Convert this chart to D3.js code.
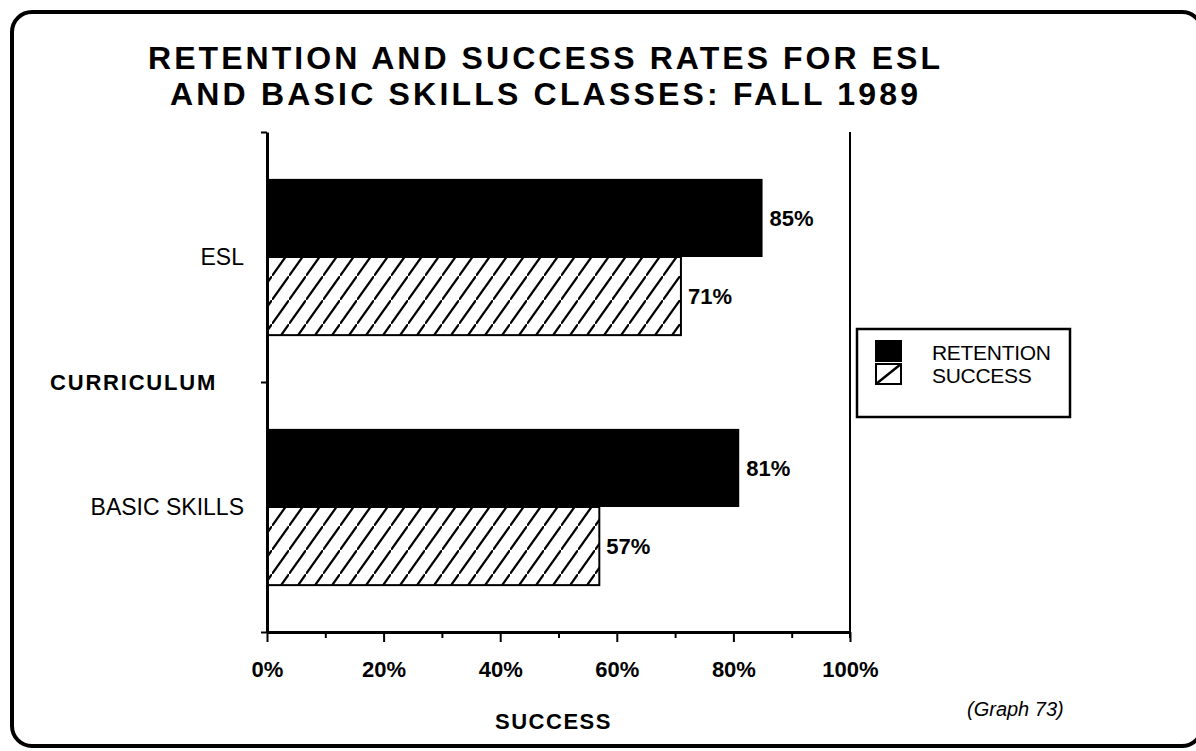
<!DOCTYPE html>
<html>
<head>
<meta charset="utf-8">
<script src="https://cdn.jsdelivr.net/npm/d3@7"></script>
<style>
  body { margin: 0; background: #fff; }
  svg { display: block; font-family: "Liberation Sans", Arial, sans-serif; }
</style>
</head>
<body>
<div id="container"></div>
<script>
// chart data
var categories = ["ESL", "BASIC SKILLS"];
var series = ["RETENTION", "SUCCESS"];
var retention = [85, 81];
var success = [71, 57];
var xTicks = [0, 20, 40, 60, 80, 100];
var xMinor = [10, 30, 50, 70, 90];

var w = 1196, h = 751;
var margin = {top: 132, right: 346, bottom: 119, left: 267};

var svg = d3.select("#container").append("svg")
  .attr("width", w)
  .attr("height", h);

// hatch pattern for the success bars
var defs = svg.append("defs");
var pat = defs.append("pattern")
  .attr("id", "hatch")
  .attr("patternUnits", "userSpaceOnUse")
  .attr("width", 17)
  .attr("height", 24);
pat.append("rect").attr("width", 17).attr("height", 24).attr("fill", "#fff");
pat.append("path")
  .attr("d", "M-1,25.4 L18,-1.4")
  .attr("stroke", "#000")
  .attr("stroke-width", 2.2);

// outer rounded frame
svg.append("rect")
  .attr("x", 12).attr("y", 12)
  .attr("width", 1190).attr("height", 734)
  .attr("rx", 20).attr("ry", 20)
  .attr("fill", "none")
  .attr("stroke", "#000")
  .attr("stroke-width", 4);

// title
var title = svg.append("g").attr("font-weight", "bold").attr("font-size", 32);
title.append("text")
  .attr("x", 148).attr("y", 69)
  .attr("textLength", 792).attr("lengthAdjust", "spacing")
  .text("RETENTION AND SUCCESS RATES FOR ESL");
title.append("text")
  .attr("x", 170).attr("y", 105)
  .attr("textLength", 748).attr("lengthAdjust", "spacing")
  .text("AND BASIC SKILLS CLASSES:  FALL 1989");

var x0 = margin.left, x1 = w - margin.right;
var yTop = margin.top, yBot = h - margin.bottom;

var x = d3.scaleLinear().domain([0, 100]).range([x0, x1]);
var y = d3.scaleBand().domain(categories).range([yTop, yBot]);
var ySub = d3.scaleBand().domain(series).range([0, y.bandwidth()]).paddingOuter(0.6);

var g = svg.append("g");

// bars
var rows = categories.map(function(c, i) {
  return {cat: c, values: [retention[i], success[i]]};
});

var rowG = g.selectAll("g.row").data(rows).enter().append("g")
  .attr("class", "row")
  .attr("transform", function(d) { return "translate(0," + y(d.cat) + ")"; });

rowG.selectAll("rect").data(function(d) { return d.values; }).enter().append("rect")
  .attr("x", x(0))
  .attr("y", function(d, i) { return ySub(series[i]); })
  .attr("width", function(d) { return x(d) - x(0); })
  .attr("height", ySub.bandwidth())
  .attr("fill", function(d, i) { return i == 0 ? "#000" : "url(#hatch)"; })
  .attr("stroke", "#000")
  .attr("stroke-width", function(d, i) { return i == 0 ? 0 : 2; });

rowG.selectAll("text").data(function(d) { return d.values; }).enter().append("text")
  .attr("x", function(d) { return x(d) + 7; })
  .attr("y", function(d, i) { return ySub(series[i]) + ySub.bandwidth() / 2 + 8; })
  .attr("font-size", 22).attr("font-weight", "bold")
  .text(function(d) { return d + "%"; });

// x axis, major and minor ticks
var xAxis = g.append("g")
  .attr("transform", "translate(0," + yBot + ")")
  .call(d3.axisBottom(x).tickValues(xTicks).tickSize(10).tickSizeOuter(0)
    .tickFormat(function(d) { return d + "%"; }));
xAxis.selectAll("text")
  .attr("font-size", 22).attr("font-weight", "bold")
  .attr("font-family", "Liberation Sans, Arial, sans-serif")
  .attr("y", 21).attr("dy", "1.1em").attr("fill", "#000");
g.append("g")
  .attr("transform", "translate(0," + yBot + ")")
  .call(d3.axisBottom(x).tickValues(xMinor).tickSize(6).tickSizeOuter(0).tickFormat(""))
  .select(".domain").remove();
g.selectAll(".tick line").attr("stroke", "#000").attr("stroke-width", 2);
xAxis.select(".domain").attr("stroke", "#000").attr("stroke-width", 3);

// y axis with ticks at band edges
var yEdge = d3.scaleLinear().domain([0, categories.length]).range([yTop, yBot]);
var yAxis = g.append("g")
  .attr("transform", "translate(" + x0 + ",0)")
  .call(d3.axisLeft(yEdge).ticks(categories.length).tickSize(6).tickSizeOuter(0).tickFormat(""));
yAxis.selectAll("line").attr("stroke", "#000").attr("stroke-width", 2);
yAxis.select(".domain").attr("stroke", "#000").attr("stroke-width", 3);

// right edge of plot area
g.append("line")
  .attr("x1", x1).attr("x2", x1)
  .attr("y1", yTop).attr("y2", yBot + 6)
  .attr("stroke", "#000").attr("stroke-width", 2);

// category labels
g.selectAll("text.cat").data(categories).enter().append("text")
  .attr("class", "cat")
  .attr("x", x0 - 23)
  .attr("y", function(d) { return y(d) + y.bandwidth() / 2 + 8; })
  .attr("text-anchor", "end")
  .attr("font-size", 23)
  .text(function(d) { return d; });

// axis titles
svg.append("text")
  .attr("x", 50).attr("y", yEdge(1) + 8)
  .attr("font-size", 22).attr("font-weight", "bold")
  .attr("letter-spacing", 1.8)
  .text("CURRICULUM");
svg.append("text")
  .attr("x", (x0 + x1) / 2 - 5).attr("y", 729)
  .attr("text-anchor", "middle")
  .attr("font-size", 22).attr("font-weight", "bold")
  .attr("letter-spacing", 1.5)
  .text("SUCCESS");
svg.append("text")
  .attr("x", 967).attr("y", 716)
  .attr("font-size", 20).attr("font-style", "italic")
  .text("(Graph 73)");

// legend
var legend = svg.append("g").attr("transform", "translate(857,329)");
legend.append("rect")
  .attr("width", 213).attr("height", 88)
  .attr("fill", "#fff").attr("stroke", "#000").attr("stroke-width", 2.5);
var items = legend.selectAll("g.item").data(series).enter().append("g")
  .attr("class", "item")
  .attr("transform", function(d, i) { return "translate(19," + (12 + i * 23) + ")"; });
items.append("rect")
  .attr("width", 25).attr("height", 20)
  .attr("fill", function(d, i) { return i == 0 ? "#000" : "#fff"; })
  .attr("stroke", "#000").attr("stroke-width", 2);
items.filter(function(d, i) { return i == 1; }).append("line")
  .attr("x1", 0).attr("y1", 20).attr("x2", 25).attr("y2", 0)
  .attr("stroke", "#000").attr("stroke-width", 2.5);
items.append("text")
  .attr("x", 56).attr("y", 19)
  .attr("font-size", 21).attr("letter-spacing", -0.3)
  .text(function(d) { return d; });
</script>
</body>
</html>
